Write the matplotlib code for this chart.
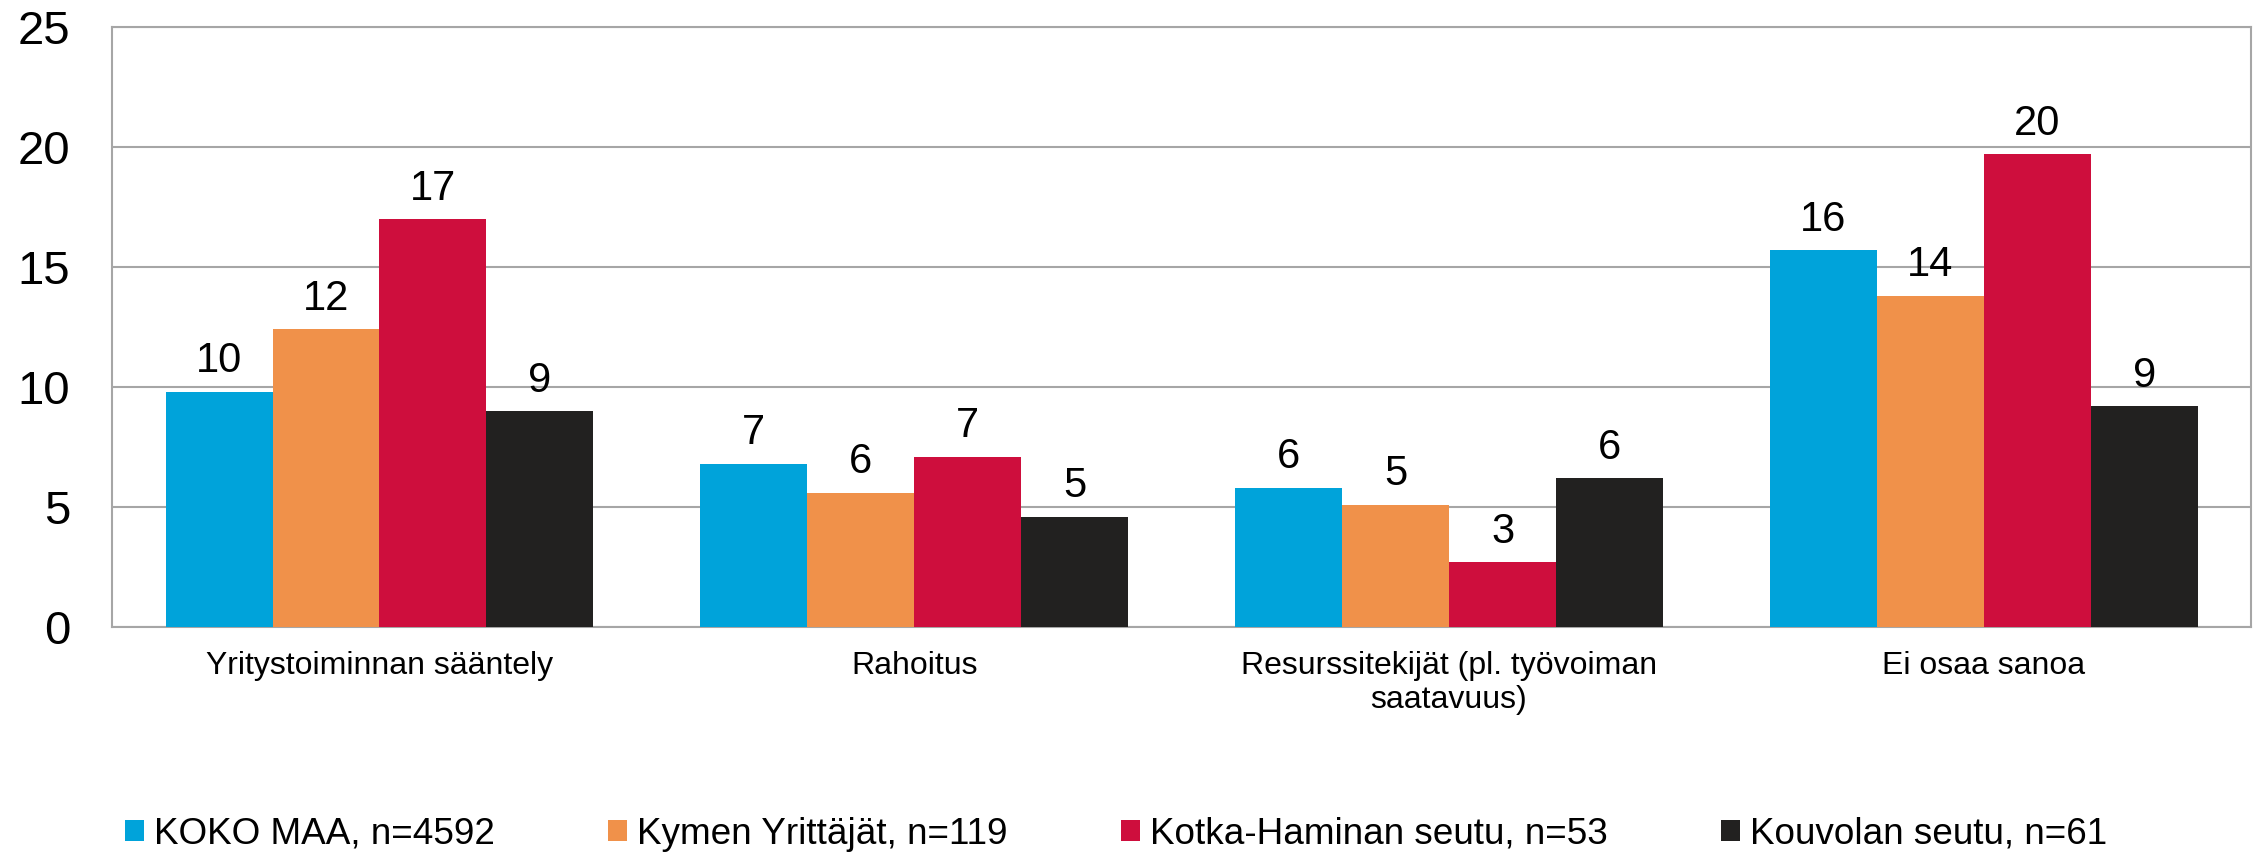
import matplotlib
matplotlib.use("Agg")
import matplotlib.pyplot as plt
import numpy as np
from matplotlib.patches import Patch

plt.rcParams['font.family'] = ['Liberation Sans', 'DejaVu Sans']

categories = ["Yritystoiminnan sääntely", "Rahoitus",
              "Resurssitekijät (pl. työvoiman\nsaatavuus)", "Ei osaa sanoa"]
series_names = ["KOKO MAA, n=4592", "Kymen Yrittäjät, n=119",
                "Kotka-Haminan seutu, n=53", "Kouvolan seutu, n=61"]
koko_maa = [9.8, 6.8, 5.8, 15.7]
kymen = [12.4, 5.6, 5.1, 13.8]
kotka = [17.0, 7.1, 2.7, 19.7]
kouvola = [9.0, 4.6, 6.2, 9.2]
series_values = [koko_maa, kymen, kotka, kouvola]
colors = ["#00A3DA", "#F0914A", "#CE0E3D", "#222120"]
yticks = [0, 5, 10, 15, 20, 25]

fig = plt.figure(figsize=(22.6, 8.52), dpi=100)
ax = fig.add_axes([0.0496, 0.2641, 0.9465, 0.7042])

x = np.arange(len(categories))
w = 0.2
for i, (vals, col) in enumerate(zip(series_values, colors)):
    pos = x - 0.3 + i * w
    bars = ax.bar(pos, vals, width=w, color=col, zorder=3, label=series_names[i])
    for b, v in zip(bars, vals):
        ax.annotate(f"{v:.0f}", (b.get_x() + b.get_width() / 2, b.get_height()),
                    xytext=(0, 14), textcoords="offset points",
                    ha="center", va="baseline", fontsize=30, color="black")

ax.set_xlim(-0.5, len(categories) - 0.5)
ax.set_ylim(0, 25)
ax.set_yticks(yticks)
ax.set_yticklabels([str(t) for t in yticks], fontsize=34)
ax.set_xticks(x)
ax.set_xticklabels(categories, fontsize=23, linespacing=1.2)
ax.tick_params(axis='y', length=0, pad=30)
ax.tick_params(axis='x', length=0, pad=17)
ax.yaxis.grid(True, color="#A6A6A6", linewidth=1.5, zorder=0)
for s in ax.spines.values():
    s.set_color("#A6A6A6")
    s.set_linewidth(1.5)

handles = [Patch(facecolor=c, edgecolor='none') for c in colors]
fig.legend(handles, series_names, loc="center left", bbox_to_anchor=(0.0552, 0.021),
           ncol=4, frameon=False, fontsize=26.6, handlelength=0.52, handleheight=0.52,
           handletextpad=0.28, columnspacing=3.05, borderaxespad=0, borderpad=0)

fig.savefig("out.png", dpi=100)
